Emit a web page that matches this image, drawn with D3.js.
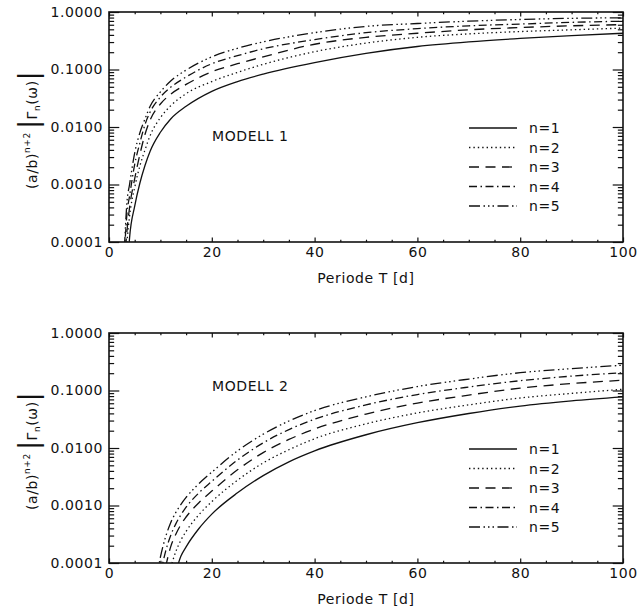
<!DOCTYPE html>
<html><head><meta charset="utf-8">
<script src="https://cdn.jsdelivr.net/npm/d3@7/dist/d3.min.js"></script>
<style>
body{margin:0;background:#fff;}
svg{display:block;}
text{font-family:"DejaVu Sans",sans-serif;fill:#111;letter-spacing:0.6px;}
</style>
</head><body>
<svg id="chart" width="637" height="612"></svg>
<script>
// ---------- data ----------
const seriesNames = ["n=1", "n=2", "n=3", "n=4", "n=5"];
const modelNames = ["MODELL 1", "MODELL 2"];

// Modell 1: period T [d]
const periodsM1 = [3, 3.5, 4, 5, 6, 7, 8, 10, 12, 15, 20, 25, 30, 40, 50, 60, 70, 80, 90, 100];
const m1_n1 = [null, 2.5e-5, 1.18e-4, 4.2e-4, 1.05e-3, 2.14e-3, 3.8e-3, 8.1e-3, 0.0138, 0.0229, 0.0417, 0.0617, 0.0832, 0.132, 0.191, 0.251, 0.302, 0.347, 0.389, 0.427];
const m1_n2 = [2.0e-5, 1.0e-4, 2.82e-4, 8.9e-4, 2.09e-3, 3.98e-3, 7.08e-3, 0.0145, 0.0234, 0.038, 0.0617, 0.0891, 0.123, 0.204, 0.288, 0.363, 0.417, 0.457, 0.490, 0.525];
const m1_n3 = [3.98e-5, 1.58e-4, 3.98e-4, 1.26e-3, 3.31e-3, 7.41e-3, 0.0132, 0.0251, 0.0372, 0.055, 0.0912, 0.126, 0.166, 0.275, 0.363, 0.427, 0.490, 0.537, 0.575, 0.603];
const m1_n4 = [6.3e-5, 3.16e-4, 6.3e-4, 2.24e-3, 5.25e-3, 0.011, 0.0182, 0.0331, 0.049, 0.0741, 0.126, 0.174, 0.229, 0.331, 0.437, 0.513, 0.575, 0.617, 0.661, 0.692];
const m1_n5 = [7.9e-5, 5.0e-4, 1.0e-3, 3.55e-3, 7.9e-3, 0.0138, 0.0229, 0.0407, 0.063, 0.0977, 0.166, 0.234, 0.302, 0.437, 0.562, 0.631, 0.692, 0.741, 0.776, 0.794];

// Modell 2
const periodsM2 = [9, 10, 11, 12, 13, 14, 15, 17.5, 20, 25, 30, 35, 40, 50, 60, 70, 80, 90, 100];
const m2_n1 = [null, null, null, null, 7.08e-5, 1.32e-4, 1.91e-4, 3.98e-4, 7.08e-4, 1.66e-3, 3.31e-3, 5.75e-3, 8.91e-3, 0.0170, 0.0275, 0.0398, 0.0537, 0.0661, 0.0776];
const m2_n2 = [null, null, null, 8.32e-5, 1.58e-4, 2.51e-4, 3.55e-4, 6.92e-4, 1.17e-3, 2.75e-3, 5.5e-3, 9.33e-3, 0.0145, 0.0263, 0.0407, 0.0562, 0.0741, 0.0891, 0.105];
const m2_n3 = [null, null, 8.51e-5, 1.91e-4, 3.16e-4, 4.68e-4, 6.31e-4, 1.12e-3, 1.78e-3, 4.17e-3, 8.32e-3, 0.0141, 0.0214, 0.0389, 0.0603, 0.0832, 0.110, 0.132, 0.151];
const m2_n4 = [null, 6.31e-5, 1.58e-4, 3.02e-4, 4.79e-4, 6.92e-4, 9.33e-4, 1.66e-3, 2.63e-3, 6.17e-3, 0.0123, 0.0209, 0.0316, 0.0562, 0.0851, 0.115, 0.148, 0.178, 0.204];
const m2_n5 = [3.98e-5, 1.26e-4, 2.82e-4, 5.01e-4, 7.59e-4, 1.05e-3, 1.38e-3, 2.40e-3, 3.80e-3, 8.91e-3, 0.0174, 0.0295, 0.0447, 0.0776, 0.117, 0.158, 0.204, 0.240, 0.275];

const xTickValues = [0, 20, 40, 60, 80, 100];
const xTickLabels = ["0", "20", "40", "60", "80", "100"];
const yTickValues = [1e-4, 1e-3, 1e-2, 1e-1, 1];
const yTickLabels = ["0.0001", "0.0010", "0.0100", "0.1000", "1.0000"];
const xTitle = "Periode T [d]";

// ---------- layout & styles ----------
const W = 637, H = 612;
const panels = [
  {top: 12, bottom: 242, periods: periodsM1, series: [m1_n1, m1_n2, m1_n3, m1_n4, m1_n5], label: modelNames[0], labelDy: 124},
  {top: 333, bottom: 563, periods: periodsM2, series: [m2_n1, m2_n2, m2_n3, m2_n4, m2_n5], label: modelNames[1], labelDy: 53}
];
const left = 109, right = 623;
const dashes = [null, "1.4,3", "10,6.5", "8,3.5,1.5,3.5", "11,3.5,1.5,3,1.5,3,1.5,3.5"];
const ink = "#111";

const svg = d3.select("#chart");
const x = d3.scaleLinear().domain([0, 100]).range([left, right]);

const xMinor = d3.range(0, 101, 5).filter(v => v % 20 !== 0);
const yMinor = [];
yTickValues.slice(0, -1).forEach(d => { for (let k = 2; k <= 9; k++) yMinor.push(d * k); });

panels.forEach((p, pi) => {
  const y = d3.scaleLog().domain([1e-4, 1]).range([p.bottom, p.top]);
  const g = svg.append("g");
  const ph = p.bottom - p.top, pw = right - left;
  const xtl = 0.02 * ph, ytl = 0.02 * pw;

  const clipId = "clip" + pi;
  svg.append("clipPath").attr("id", clipId).append("rect")
    .attr("x", left).attr("y", p.top).attr("width", pw).attr("height", ph);

  // curves
  const line = d3.line()
    .defined(d => d.v != null)
    .x(d => x(d.t)).y(d => y(d.v))
    .curve(d3.curveMonotoneX);
  p.series.forEach((vals, i) => {
    const pts = p.periods.map((t, j) => ({t: t, v: vals[j]}));
    g.append("path").datum(pts)
      .attr("clip-path", `url(#${clipId})`)
      .attr("d", line)
      .attr("fill", "none").attr("stroke", ink).attr("stroke-width", 1.3)
      .attr("stroke-dasharray", dashes[i]);
  });

  // axes
  const styleAxis = sel => {
    sel.select(".domain").remove();
    sel.selectAll(".tick line").attr("stroke", ink).attr("stroke-width", 1.2);
    sel.selectAll("text").attr("font-size", 14).attr("fill", ink)
      .style("font-family", '"DejaVu Sans",sans-serif');
  };
  g.append("g").attr("transform", `translate(0,${p.bottom})`)
    .call(d3.axisBottom(x).tickValues(xTickValues).tickSize(-xtl).tickPadding(5)
      .tickFormat((d, i) => xTickLabels[i])).call(styleAxis);
  g.append("g").attr("transform", `translate(0,${p.bottom})`)
    .call(d3.axisBottom(x).tickValues(xMinor).tickSize(-xtl / 2).tickFormat("")).call(styleAxis);
  g.append("g").attr("transform", `translate(0,${p.top})`)
    .call(d3.axisTop(x).tickValues(xTickValues).tickSize(-xtl).tickFormat("")).call(styleAxis);
  g.append("g").attr("transform", `translate(0,${p.top})`)
    .call(d3.axisTop(x).tickValues(xMinor).tickSize(-xtl / 2).tickFormat("")).call(styleAxis);
  g.append("g").attr("transform", `translate(${left},0)`)
    .call(d3.axisLeft(y).tickValues(yTickValues).tickSize(-ytl).tickPadding(6)
      .tickFormat((d, i) => yTickLabels[i])).call(styleAxis);
  g.append("g").attr("transform", `translate(${left},0)`)
    .call(d3.axisLeft(y).tickValues(yMinor).tickSize(-ytl / 2).tickFormat("")).call(styleAxis);
  g.append("g").attr("transform", `translate(${right},0)`)
    .call(d3.axisRight(y).tickValues(yTickValues).tickSize(-ytl).tickFormat("")).call(styleAxis);
  g.append("g").attr("transform", `translate(${right},0)`)
    .call(d3.axisRight(y).tickValues(yMinor).tickSize(-ytl / 2).tickFormat("")).call(styleAxis);

  // frame
  g.append("rect").attr("x", left).attr("y", p.top).attr("width", pw).attr("height", ph)
    .attr("fill", "none").attr("stroke", ink).attr("stroke-width", 1.6);

  // x title
  g.append("text").attr("x", (left + right) / 2).attr("y", p.bottom + 41)
    .attr("text-anchor", "middle").attr("font-size", 14).text(xTitle);

  // y title
  const yt = g.append("text")
    .attr("transform", `translate(37,${(p.top + p.bottom) / 2 + 3}) rotate(-90)`)
    .attr("text-anchor", "middle").attr("font-size", 14);
  yt.append("tspan").text("(a/b)");
  yt.append("tspan").attr("font-size", 9).attr("dy", -7).text("n+2");
  yt.append("tspan").attr("dy", 7).text("\u2009");
  yt.append("tspan").attr("font-size", 26).attr("dy", 0).text("|");
  yt.append("tspan").text("\u0393");
  yt.append("tspan").attr("font-size", 9).attr("dy", 3).text("n");
  yt.append("tspan").attr("dy", -3).text("(\u03C9)");
  yt.append("tspan").attr("font-size", 26).text("|");

  // model label
  g.append("text").attr("x", 212).attr("y", p.top + p.labelDy).attr("dy", "0.36em")
    .attr("font-size", 14).text(p.label);

  // legend
  seriesNames.forEach((name, i) => {
    const ly = p.top + 116 + i * 19.5;
    g.append("line").attr("x1", 469).attr("x2", 517).attr("y1", ly).attr("y2", ly)
      .attr("stroke", ink).attr("stroke-width", 1.3).attr("stroke-dasharray", dashes[i]);
    g.append("text").attr("x", 529).attr("y", ly).attr("dy", "0.36em")
      .attr("font-size", 14).text(name);
  });
});
</script>
</body></html>
